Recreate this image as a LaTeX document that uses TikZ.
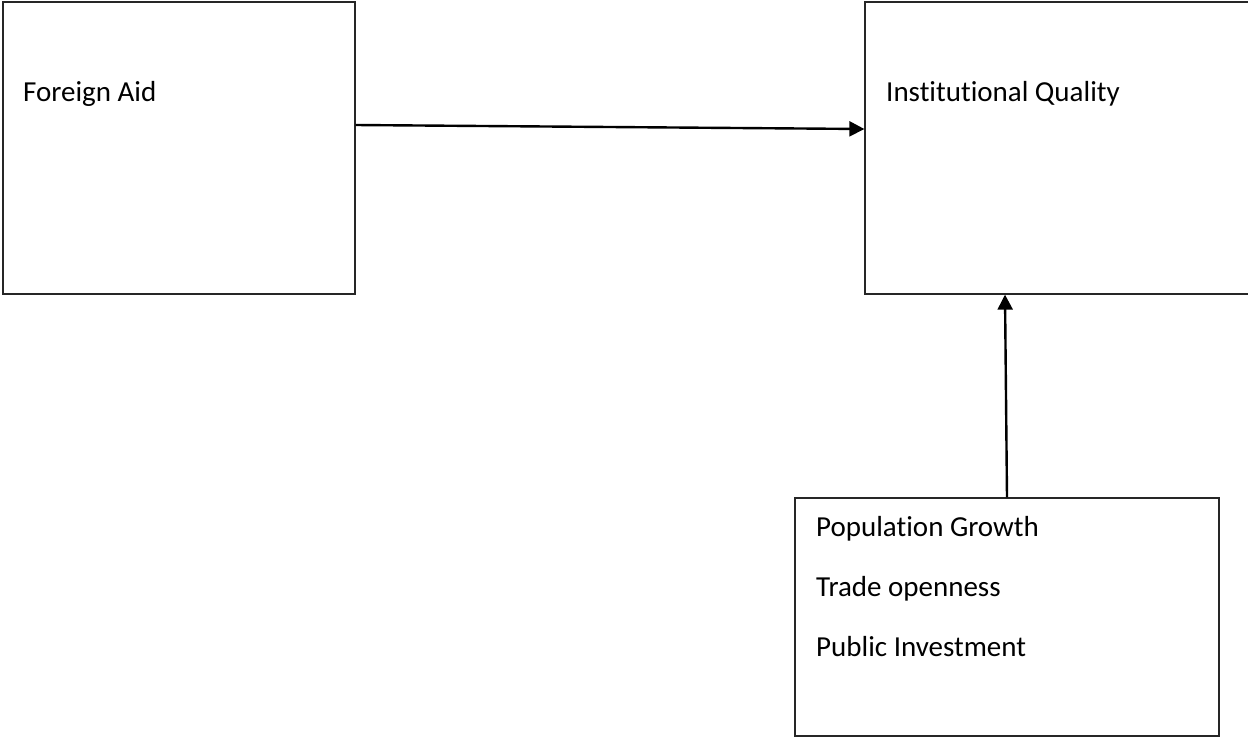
\documentclass[tikz,border=0pt]{standalone}
\usepackage{fontspec}
\setmainfont{Carlito}[Ligatures={NoCommon}]
\usetikzlibrary{arrows.meta}
\begin{document}
\begin{tikzpicture}[x=1pt,y=-1pt,
  box/.style={draw=black!85, line width=1.3pt, rectangle, inner sep=0pt},
  lbl/.style={anchor=base west, inner sep=0pt, font=\fontsize{29}{35}\selectfont},
  conn/.style={line width=2.4pt, -{Triangle[length=15pt,width=15pt]}}]
\useasboundingbox (0,0) rectangle (1248,737);
\clip (0,0) rectangle (1248,737);
\node[box, minimum width=352pt, minimum height=292pt] (fa) at (179,148) {};
\node[box, minimum width=395pt, minimum height=292pt] (iq) at (1062.5,148) {};
\node[box, minimum width=424pt, minimum height=238pt] (pb) at (1007,617) {};
\node[lbl] (t1) at (23,101) {Foreign Aid};
\node[lbl] (t2) at (886,101) {Institutional Quality};
\node[lbl] (t3) at (816,536) {Population Growth};
\node[lbl] (t4) at (816,596) {Trade openness};
\node[lbl] (t5) at (816,656) {Public Investment};
\draw[conn] ([yshift=23pt]fa.east) -- ([yshift=19pt]iq.west);
\draw[conn] (pb.north) -- ([xshift=-57.5pt]iq.south);
\end{tikzpicture}
\end{document}
